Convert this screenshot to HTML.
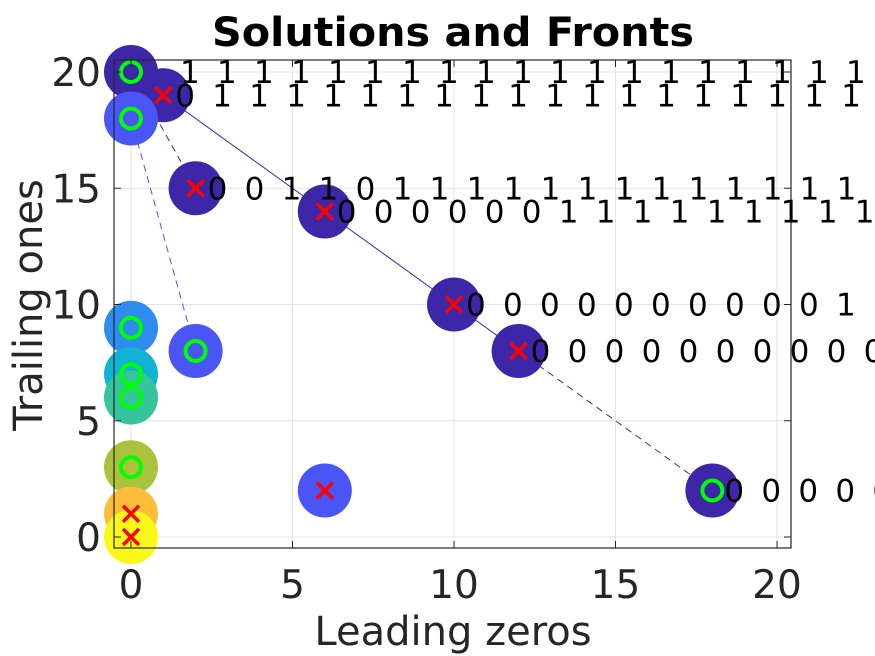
<!DOCTYPE html>
<html><head><meta charset="utf-8"><style>
html,body{margin:0;padding:0;background:#fff;width:875px;height:656px;overflow:hidden}
svg text{font-family:"DejaVu Sans","Liberation Sans",sans-serif}
</style></head><body>
<svg id="chart" width="875" height="656" viewBox="0 0 875 656" xmlns="http://www.w3.org/2000/svg">
<g id="grid"></g>
<g id="lines"></g>
<g id="labels"></g>
<g id="points"></g>
<g id="axes"></g>
<text x="453" y="46" text-anchor="middle" font-size="40" font-weight="bold" textLength="482" lengthAdjust="spacingAndGlyphs" fill="#000">Solutions and Fronts</text>
<text x="453" y="645" text-anchor="middle" font-size="40" fill="#262626">Leading zeros</text>
<text transform="translate(42,305) rotate(-90)" text-anchor="middle" font-size="40" fill="#262626">Trailing ones</text>
</svg>
<script>
const xTicks=[0,5,10,15,20];
const yTicks=[0,5,10,15,20];
const ptX=[1,0,0,2,6,10,12,18,2,6,0,0,0,0,0,0];
const ptY=[19,20,18,15,14,10,8,2,8,2,9,7,6,3,1,0];
const ptColor=["#3e26a8","#3e26a8","#4a55f5","#3e26a8","#3e26a8","#3e26a8","#3e26a8","#3e26a8","#4a55f5","#4a55f5","#2e8cf0","#12b2d4","#35c49c","#abc33c","#fcbe3a","#f9f817"];
const ptMarker=["x","o","o","x","x","x","x","o","o","x","o","o","o","o","x","x"];
const ptLabel=[1,1,0,1,1,1,1,1,0,0,0,0,0,0,0,0];
const solidFrontX=[0,1,6,10,12], solidFrontY=[20,19,14,10,8];
const dashFrontX=[12,18], dashFrontY=[8,2];
const dash2X=[0,2], dash2Y=[20,15];
const dash3X=[0,2], dash3Y=[18,8];
const NS="http://www.w3.org/2000/svg";
const L=114,R=791,T=60,B=548;
const sx=v=>131+v*32.3;
const sy=v=>537-v*23.25;
function mk(tag,attrs,parent){const e=document.createElementNS(NS,tag);for(const k in attrs)e.setAttribute(k,attrs[k]);parent.appendChild(e);return e;}
const grid=document.getElementById('grid'),axes=document.getElementById('axes');
xTicks.forEach(t=>{
 const g=mk('line',{x1:sx(t),x2:sx(t),y1:T,y2:B,stroke:'#e3e3e3','stroke-width':1},grid);
 
 const a=mk('line',{x1:sx(t),x2:sx(t),y1:B,y2:B-7,stroke:'#262626','stroke-width':1},axes);
 
 const a2=mk('line',{x1:sx(t),x2:sx(t),y1:T,y2:T+7,stroke:'#262626','stroke-width':1},axes);
 
 const tx=mk('text',{x:sx(t),y:598,'text-anchor':'middle','font-size':39,fill:'#262626'},axes);
 tx.textContent=t;
});
yTicks.forEach(t=>{
 const g=mk('line',{x1:L,x2:R,y1:sy(t),y2:sy(t),stroke:'#e3e3e3','stroke-width':1},grid);
 
 const a=mk('line',{x1:L,x2:L+7,y1:sy(t),y2:sy(t),stroke:'#262626','stroke-width':1},axes);
 
 const a2=mk('line',{x1:R,x2:R-7,y1:sy(t),y2:sy(t),stroke:'#262626','stroke-width':1},axes);
 
 const tx=mk('text',{x:101,y:sy(t)+14,'text-anchor':'end','font-size':39,fill:'#262626'},axes);
 tx.textContent=t;
});
const box=mk('rect',{x:L,y:T,width:R-L,height:B-T,fill:'none',stroke:'#262626','stroke-width':1.2},axes);

const lines=document.getElementById('lines');
function poly(xs,ys,col,dash,name){
 const p=mk('polyline',{points:xs.map((x,i)=>sx(x)+','+sy(ys[i])).join(' '),fill:'none',stroke:col,'stroke-width':1,'stroke-dasharray':dash},lines);
 
}
poly(solidFrontX,solidFrontY,'#3e26a8','none','front-1-line');
poly(dashFrontX,dashFrontY,'#3e26a8','7,5','front-1-dashed');
poly(dash2X,dash2Y,'#3e26a8','7,5','front-2-dashed');
poly(dash3X,dash3Y,'#4a55f5','7,5','front-3-dashed');
const pts=document.getElementById('points');
ptX.forEach((x,i)=>{
 const c=mk('circle',{cx:sx(x),cy:sy(ptY[i]),r:27,fill:ptColor[i]},pts);
 
});
ptX.forEach((x,i)=>{
 const cx=sx(x),cy=sy(ptY[i]);
 if(ptMarker[i]==='o'){
  const m=mk('circle',{cx:cx,cy:cy,r:10,fill:'none',stroke:'#00ff00','stroke-width':4},pts);
  
 }else{
  const m=mk('path',{d:`M${cx-8},${cy-8}L${cx+8},${cy+8}M${cx+8},${cy-8}L${cx-8},${cy+8}`,stroke:'#ff0000','stroke-width':3.5,fill:'none'},pts);
  
 }
});
const labs=document.getElementById('labels');
const topLayer=mk('g',{},document.getElementById('chart'));


ptX.forEach((x,i)=>{
 if(!ptLabel[i])return;
 const bits=[];
 const lz=x,to=ptY[i];
 for(let k=0;k<20;k++)bits.push(k<lz?0:(k>=20-to?1:0));
 if(lz===2&&to===15){bits[2]=1;bits[3]=1;bits[4]=0;}
 bits.forEach((b,k)=>{
  const parent=(lz===0&&k===0)?labs:topLayer;
  const t=mk('text',{x:sx(x)+12+k*37,y:sy(to)+11,'font-size':31,fill:'#000'},parent);
  t.textContent=b;
 });
});
</script>
</body></html>
